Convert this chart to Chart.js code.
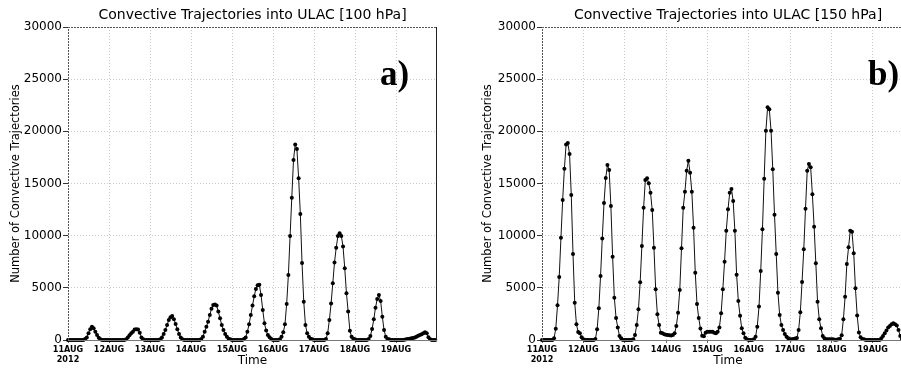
<!DOCTYPE html>
<html>
<head>
<meta charset="utf-8">
<script src="https://cdn.jsdelivr.net/npm/chart.js@4.4.0/dist/chart.umd.min.js"></script>
<style>
  html, body { margin: 0; padding: 0; background: #fff; overflow: hidden; width: 901px; height: 368px; }
  .panel { position: absolute; top: 0; }
  #panelA { left: 0; }
  #panelB { left: 450px; }
</style>
</head>
<body>
<div class="panel" id="panelA"><canvas id="chartA" width="450" height="368"></canvas></div>
<div class="panel" id="panelB"><canvas id="chartB" width="477" height="368"></canvas></div>
<script>
// hourly counts, 11AUG 00h .. 19AUG 23h (one row per day)
const trajectories100hPa = [
    0, 0, 0, 0, 0, 0, 0, 0, 0, 0, 100, 250, 640, 1020, 1280, 1120, 800, 480, 220, 60, 0, 0, 0, 0,
    0, 0, 0, 0, 0, 0, 0, 0, 0, 0, 60, 250, 450, 640, 800, 1000, 1020, 1000, 700, 250, 60, 0, 0, 0,
    0, 0, 0, 0, 0, 0, 60, 250, 575, 960, 1440, 1920, 2170, 2300, 1980, 1530, 1020, 575, 250, 60, 0, 0, 0, 0,
    0, 0, 0, 0, 0, 0, 100, 320, 800, 1280, 1760, 2400, 3000, 3350, 3400, 3300, 2720, 2080, 1440, 960, 575, 320, 130, 60,
    0, 0, 0, 0, 0, 0, 0, 100, 250, 800, 1500, 2400, 3300, 4200, 4900, 5250, 5300, 4310, 2880, 1600, 900, 480, 260, 100,
    0, 0, 0, 0, 60, 320, 735, 1500, 3450, 6230, 9970, 13640, 17250, 18750, 18300, 15500, 12080, 7380, 3670, 1440, 640, 320, 130, 60,
    0, 0, 0, 0, 0, 0, 0, 100, 640, 1920, 3500, 5430, 7440, 8850, 9970, 10220, 9970, 8950, 6870, 4470, 2720, 895, 320, 130,
    60, 0, 0, 0, 0, 0, 0, 0, 100, 380, 1050, 1980, 3100, 3930, 4310, 3740, 2240, 960, 320, 100, 60, 0, 0, 0,
    0, 0, 0, 0, 0, 30, 60, 100, 130, 160, 200, 250, 320, 400, 480, 560, 640, 750, 640, 260, 60, 0, 0, 0
];

const trajectories150hPa = [
    0, 0, 0, 0, 0, 0, 0, 160, 1090, 3320, 6040, 9800, 13420, 16420, 18750, 18880, 17830, 13900, 8240, 3580, 1500, 770, 640, 260,
    60, 0, 0, 0, 0, 0, 0, 100, 1020, 3040, 6130, 9740, 13130, 15530, 16770, 16290, 12840, 7990, 4060, 2110, 1210, 380, 160, 0,
    0, 0, 0, 0, 0, 60, 480, 1440, 2940, 5530, 9010, 12680, 15340, 15500, 15020, 14120, 12460, 8850, 4860, 2460, 1440, 700, 640, 540,
    500, 480, 450, 420, 480, 640, 1340, 2620, 4790, 8790, 12680, 14220, 16230, 17190, 16040, 14220, 10770, 6450, 3450, 2100, 1100, 400, 350, 700,
    780, 800, 800, 780, 700, 640, 800, 1210, 2560, 4860, 7510, 10480, 12520, 14120, 14470, 13320, 10480, 6260, 3740, 2330, 1120, 640, 220, 60,
    0, 0, 0, 60, 320, 1280, 3200, 6610, 10610, 15460, 20060, 22300, 22110, 20060, 16360, 12010, 8240, 4540, 2400, 1440, 960, 575, 300, 160,
    60, 60, 100, 150, 190, 960, 2650, 5560, 8690, 12590, 16230, 16870, 16550, 13960, 10860, 7350, 3670, 1980, 1120, 380, 160, 60, 60, 60,
    60, 60, 30, 30, 60, 130, 450, 1980, 4150, 7280, 8880, 10480, 10380, 8310, 4950, 2360, 730, 260, 100, 60, 0, 0, 0, 0,
    0, 0, 0, 0, 0, 160, 380, 640, 900, 1210, 1340, 1500, 1600, 1500, 1400, 960, 380, 100, 60, 0, 0, 0, 0, 0
];

const dayLabels = ['11AUG', '12AUG', '13AUG', '14AUG', '15AUG', '16AUG', '17AUG', '18AUG', '19AUG'];
const yearLabel = '2012';
const yMin = 0, yMax = 30000, yStep = 5000;

// box around the plot area, like the GrADS frame
const framePlugin = {
    id: 'frame',
    afterDraw(chart) {
        const {ctx, chartArea: a} = chart;
        ctx.save();
        ctx.lineWidth = 1;
        ctx.strokeStyle = '#555';
        ctx.setLineDash([2, 1]);
        ctx.beginPath();
        ctx.moveTo(a.left + 0.5, a.bottom);
        ctx.lineTo(a.left + 0.5, a.top + 0.5);
        ctx.lineTo(a.right, a.top + 0.5);
        ctx.stroke();
        ctx.setLineDash([]);
        ctx.strokeStyle = '#222';
        ctx.beginPath();
        ctx.moveTo(a.right - 0.5, a.top);
        ctx.lineTo(a.right - 0.5, a.bottom);
        ctx.stroke();
        ctx.strokeStyle = '#777';
        ctx.beginPath();
        ctx.moveTo(a.left, a.bottom + 0.5);
        ctx.lineTo(a.right, a.bottom + 0.5);
        ctx.stroke();
        ctx.restore();
    }
};

// title above the frame and the panel letter
const labelPlugin = {
    id: 'labels',
    afterDraw(chart, args, opts) {
        const {ctx, chartArea: a} = chart;
        ctx.save();
        ctx.fillStyle = '#000';
        ctx.textAlign = 'center';
        ctx.textBaseline = 'alphabetic';
        ctx.font = '14px "DejaVu Sans"';
        ctx.fillText(opts.title, (a.left + a.right) / 2, 19);
        ctx.textAlign = 'left';
        ctx.font = 'bold 35px "Liberation Serif"';
        ctx.fillText(opts.letter, opts.letterX, 85);
        ctx.restore();
    }
};

function makeChart(canvasId, values, title, letter, letterX, axisWidth, yTitlePad) {
    const ctx = document.getElementById(canvasId).getContext('2d');
    return new Chart(ctx, {
        type: 'line',
        data: {
            datasets: [{
                data: values.map((v, i) => ({x: i, y: v})),
                borderColor: '#111',
                borderWidth: 1,
                pointRadius: 2,
                pointBackgroundColor: '#000',
                pointBorderWidth: 0,
                tension: 0,
                clip: 4
            }]
        },
        options: {
            responsive: false,
            animation: false,
            events: [],
            layout: { padding: { top: 27, right: 13, bottom: 0, left: 0 } },
            plugins: {
                legend: { display: false },
                tooltip: { enabled: false },
                labels: { title: title, letter: letter, letterX: letterX }
            },
            scales: {
                x: {
                    type: 'linear',
                    min: 0,
                    max: dayLabels.length * 24,
                    afterBuildTicks: s => { s.ticks = dayLabels.map((d, i) => ({value: i * 24})); },
                    afterFit: s => { s.height = 28; },
                    grid: { color: '#c8c8c8', lineWidth: 1, tickLength: 3, tickColor: '#666', tickBorderDash: [] },
                    border: { display: false, dash: [1, 2] },
                    ticks: {
                        autoSkip: false,
                        maxRotation: 0,
                        padding: 2,
                        color: '#000',
                        font: { family: '"DejaVu Sans Condensed", "DejaVu Sans"', weight: 'bold', size: 9, lineHeight: 1.05 },
                        callback: v => v === 0 ? [dayLabels[0], yearLabel] : dayLabels[v / 24]
                    },
                    title: {
                        display: true,
                        text: 'Time',
                        color: '#000',
                        font: { family: '"DejaVu Sans"', size: 12 },
                        padding: { top: 0, bottom: 0 }
                    }
                },
                y: {
                    min: yMin,
                    max: yMax,
                    afterFit: s => { s.width = axisWidth; },
                    grid: { color: '#c8c8c8', lineWidth: 1, tickLength: 5, tickColor: '#333', tickBorderDash: [] },
                    border: { display: false, dash: [1, 2] },
                    ticks: {
                        stepSize: yStep,
                        padding: 1,
                        color: '#000',
                        font: { family: '"DejaVu Sans"', size: 12 },
                        callback: v => String(v)
                    },
                    title: {
                        display: true,
                        text: 'Number of Convective Trajectories',
                        color: '#000',
                        font: { family: '"DejaVu Sans"', size: 11.5 },
                        padding: { top: yTitlePad, bottom: 0 }
                    }
                }
            }
        },
        plugins: [framePlugin, labelPlugin]
    });
}

makeChart('chartA', trajectories100hPa, 'Convective Trajectories into ULAC [100 hPa]', 'a)', 380, 68, 9);
makeChart('chartB', trajectories150hPa, 'Convective Trajectories into ULAC [150 hPa]', 'b)', 418, 92, 31);
</script>
</body>
</html>
